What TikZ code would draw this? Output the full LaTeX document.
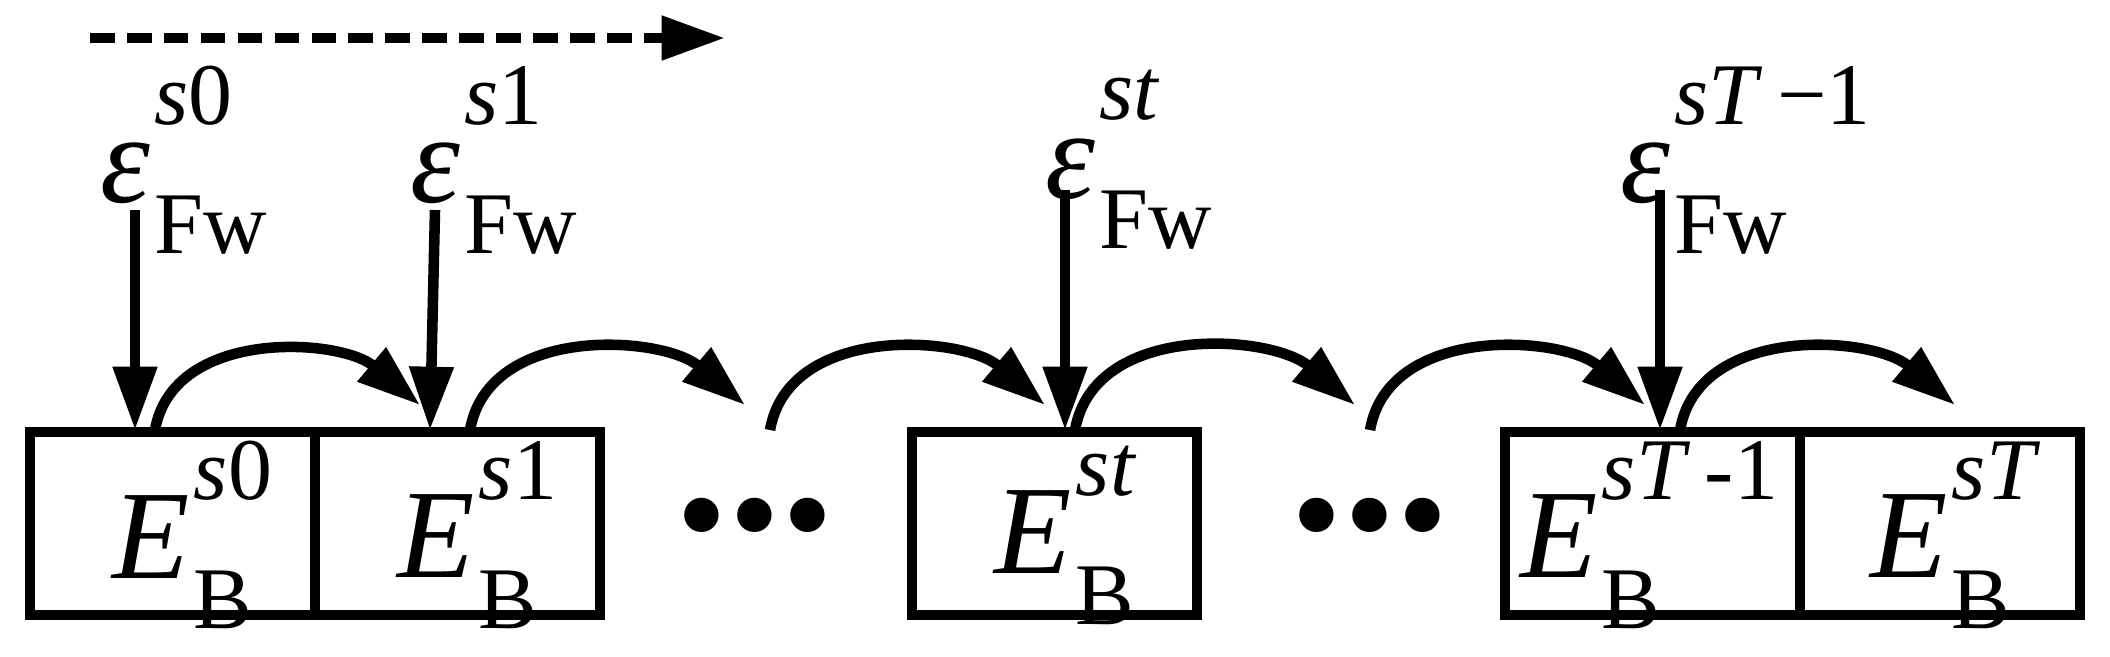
\documentclass[tikz,border=0pt]{standalone}
\usepackage{fontspec}
\setmainfont{Liberation Serif}
\usetikzlibrary{arrows.meta}
\newcommand{\SupSub}[3]{\mbox{#1\kern.03em\rlap{\raisebox{.62em}{\fontsize{25}{26}\selectfont #2}}\raisebox{-.4em}{\fontsize{25}{26}\selectfont #3}}}
\begin{document}
\begin{tikzpicture}[x=0.01cm,y=-0.01cm,
  lw/.style={line width=3pt},
  arr/.style={lw,-{Triangle[length=18pt,width=12pt]}},
  lbl/.style={inner sep=0pt,anchor=west,font=\fontsize{36}{38}\selectfont}]
\useasboundingbox (0,0) rectangle (2110,656);
\tikzset{bx/.style={lw,draw}}
\draw[bx] (30,432) rectangle (600,615); \draw[lw] (315,432)--(315,615);
\draw[bx] (912,432) rectangle (1197,615);
\draw[bx] (1505,432) rectangle (2080,615); \draw[lw] (1800,432)--(1800,615);
\coordinate (b1) at (135,430); \coordinate (b2) at (430,430);
\coordinate (b3) at (1065,430); \coordinate (b4) at (1660,430);
\node[lbl] (e0) at (112,535) {\SupSub{\textit{E}}{\textit{s}0}{B}};
\node[lbl] (e1) at (397,535) {\SupSub{\textit{E}}{\textit{s}1}{B}};
\node[lbl] (e2) at (994,535) {\SupSub{\textit{E}}{\textit{st}}{B}};
\node[lbl] (e3) at (1520,535) {\SupSub{\textit{E}}{\textit{sT}\,-1}{B}};
\node[lbl] (e4) at (1870,535) {\SupSub{\textit{E}}{\textit{sT}}{B}};
\node[lbl,font=\fontsize{60}{60}\selectfont\bfseries,anchor=center] (d1) at (755,515) {...};
\node[lbl,font=\fontsize{60}{60}\selectfont\bfseries,anchor=center] (d2) at (1370,515) {...};
\node[lbl] (f0) at (100,160) {\SupSub{\textit{ε}}{\textit{s}0}{Fw}};
\node[lbl] (f1) at (410,160) {\SupSub{\textit{ε}}{\textit{s}1}{Fw}};
\node[lbl] (f2) at (1045,160) {\SupSub{\textit{ε}}{\textit{st}}{Fw}};
\node[lbl] (f3) at (1620,160) {\SupSub{\textit{ε}}{\textit{sT}\,−1}{Fw}};
\coordinate (t0) at (135,210); \coordinate (t1) at (435,210);
\coordinate (t2) at (1065,190); \coordinate (t3) at (1660,190);
\draw[arr] (t0)--(b1);
\draw[arr] (t1)--(b2);
\draw[arr] (t2)--(b3);
\draw[arr] (t3)--(b4);
\coordinate (s1) at (155,430); \coordinate (s2) at (470,430);
\coordinate (s3) at (770,430); \coordinate (s4) at (1075,430);
\coordinate (s5) at (1370,430); \coordinate (s6) at (1680,430);
\coordinate (r1) at (420,405); \coordinate (r2) at (745,405);
\coordinate (r3) at (1045,405); \coordinate (r4) at (1355,405);
\coordinate (r5) at (1645,405); \coordinate (r6) at (1955,405);
\foreach \a/\b in {s1/r1,s2/r2,s3/r3,s4/r4,s5/r5,s6/r6}
  \draw[arr] (\a) to[out=80,in=140] (\b);
\coordinate (da) at (90,38); \coordinate (db) at (725,38);
\draw[lw,dash pattern=on 7pt off 3.5pt,-{Triangle[length=18pt,width=12pt]}] (da)--(db);
\end{tikzpicture}
\end{document}
